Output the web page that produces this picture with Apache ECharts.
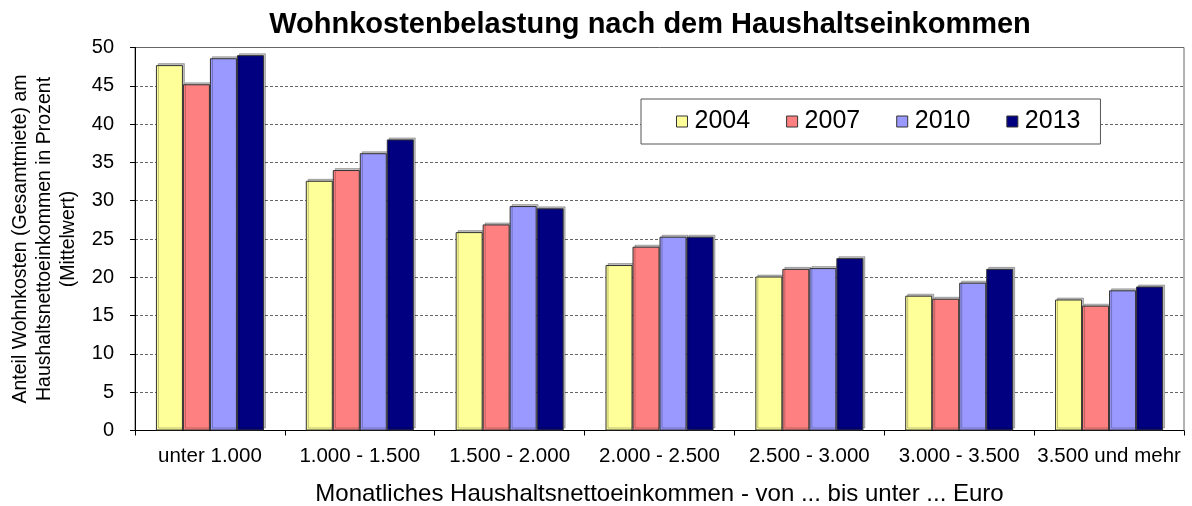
<!DOCTYPE html>
<html>
<head>
<meta charset="utf-8">
<script src="https://cdn.jsdelivr.net/npm/echarts@6/dist/echarts.min.js"></script>
<style>
	html, body { margin: 0; padding: 0; background: #fff; }
	#chart { width: 1192px; height: 506px; }
</style>
</head>
<body>
<div id="chart"></div>
<script>
	"use strict";

	/*----- data -----*/
	var categories = ['unter 1.000', '1.000 - 1.500', '1.500 - 2.000', '2.000 - 2.500', '2.500 - 3.000', '3.000 - 3.500', '3.500 und mehr'];
	var years = ['2004', '2007', '2010', '2013'];
	var values2004 = [47.7, 32.6, 25.9, 21.6, 20.1, 17.6, 17.1];
	var values2007 = [45.2, 34.0, 26.9, 24.0, 21.1, 17.2, 16.3];
	var values2010 = [48.6, 36.2, 29.3, 25.3, 21.2, 19.3, 18.3];
	var values2013 = [49.0, 38.0, 29.0, 25.3, 22.5, 21.1, 18.8];
	var yTicks = [0, 5, 10, 15, 20, 25, 30, 35, 40, 45, 50];

	var colors = ['#ffff99', '#ff8080', '#9999ff', '#000080'];
	var allValues = [values2004, values2007, values2010, values2013];
	var fontName = '"Liberation Sans", Arial, sans-serif';

	var series = years.map(function (y, i) {
		return {
			name: y,
			type: 'bar',
			barWidth: 27,
			barGap: '0%',
			data: allValues[i],
			itemStyle: {
				color: colors[i],
				borderColor: '#333333',
				borderWidth: 1,
				shadowColor: 'rgba(0,0,0,0.25)',
				shadowOffsetX: 2,
				shadowOffsetY: -2,
				shadowBlur: 0
			}
		};
	});

	var option = {
		animation: false,
		backgroundColor: '#ffffff',
		textStyle: { fontFamily: fontName },
		title: {
			text: 'Wohnkostenbelastung nach dem Haushaltseinkommen',
			left: 645,
			textAlign: 'center',
			top: 5,
			textStyle: { fontFamily: fontName, fontSize: 29, fontWeight: 'bold', color: '#000' }
		},
		legend: {
			data: years,
			left: 641,
			top: 99,
			width: 473,
			height: 45,
			padding: [10, 20, 10, 35],
			itemGap: 36,
			itemWidth: 11,
			itemHeight: 11,
			borderColor: '#555555',
			borderWidth: 1,
			backgroundColor: '#ffffff',
			icon: 'rect',
			itemStyle: { borderColor: '#333333', borderWidth: 1 },
			textStyle: { fontFamily: fontName, fontSize: 25, color: '#000', padding: [0, 0, 0, 2] }
		},
		grid: {
			left: 135,
			right: 8,
			top: 47.5,
			bottom: 75.5,
			containLabel: false,
			outerBoundsMode: 'none',
			show: true,
			borderColor: '#666666',
			borderWidth: 1,
			backgroundColor: 'transparent'
		},
		xAxis: {
			type: 'category',
			data: categories,
			name: 'Monatliches Haushaltsnettoeinkommen - von ... bis unter ... Euro',
			nameLocation: 'middle',
			nameGap: 52,
			nameTextStyle: { fontFamily: fontName, fontSize: 24, color: '#000' },
			axisLine: { lineStyle: { color: '#000', width: 1 } },
			axisTick: { show: true, length: 5, alignWithLabel: false, lineStyle: { color: '#000' } },
			axisLabel: { fontFamily: fontName, fontSize: 20.5, color: '#000', margin: 15, interval: 0 },
			splitLine: { show: false }
		},
		yAxis: {
			type: 'value',
			min: yTicks[0],
			max: yTicks[yTicks.length - 1],
			interval: 5,
			name: 'Anteil Wohnkosten (Gesamtmiete) am\nHaushaltsnettoeinkommen in Prozent\n(Mittelwert)',
			nameLocation: 'middle',
			nameGap: 53,
			nameRotate: 90,
			nameTextStyle: { fontFamily: fontName, fontSize: 19.5, color: '#000', lineHeight: 24, align: 'center' },
			axisLine: { show: true, lineStyle: { color: '#000', width: 1 } },
			axisTick: { show: true, inside: false, length: 5, lineStyle: { color: '#000' } },
			axisLabel: { fontFamily: fontName, fontSize: 20, color: '#000', margin: 21 },
			splitLine: { show: true, lineStyle: { color: '#666666', type: [3, 2], width: 1 } }
		},
		series: series
	};

	var chart = echarts.init(document.getElementById('chart'), null, { renderer: 'canvas' });
	chart.setOption(option);
	window.addEventListener('resize', function () {
		chart.resize();
	});
</script>
</body>
</html>
